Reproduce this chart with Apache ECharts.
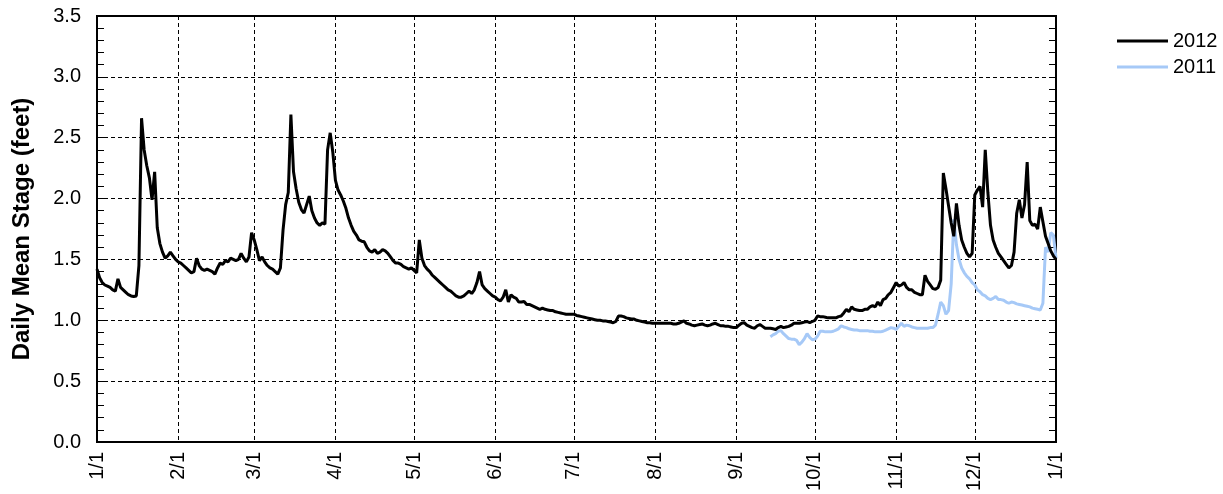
<!DOCTYPE html>
<html>
<head>
<meta charset="utf-8">
<script src="https://cdn.jsdelivr.net/npm/echarts@6/dist/echarts.min.js"></script>
<style>
  html, body { margin: 0; padding: 0; background: #fff; }
  #chart { width: 1223px; height: 494px; }
</style>
</head>
<body>
<div id="chart"></div>
<script>
// Days per month (leap year) used to build the daily date categories
const monthLengths = [31, 29, 31, 30, 31, 30, 31, 31, 30, 31, 30, 31];

// Daily mean stage, feet: 1/1 through 12/31 plus the following 1/1
const stage2012 = [
  // Jan
  1.42, 1.35, 1.31, 1.29, 1.28, 1.27, 1.25, 1.24, 1.34, 1.27,
  1.25, 1.23, 1.21, 1.20, 1.195, 1.20, 1.45, 2.66, 2.40, 2.27,
  2.17, 1.99, 2.22, 1.76, 1.63, 1.56, 1.51, 1.53, 1.56, 1.53,
  1.50,
  // Feb
  1.48, 1.47, 1.45, 1.43, 1.41, 1.39, 1.40, 1.51, 1.45, 1.42,
  1.41, 1.42, 1.41, 1.40, 1.38, 1.43, 1.47, 1.46, 1.49, 1.48,
  1.51, 1.50, 1.49, 1.50, 1.55, 1.51, 1.48, 1.52, 1.72,
  // Mar
  1.66, 1.58, 1.49, 1.52, 1.48, 1.45, 1.43, 1.42, 1.40, 1.38,
  1.43, 1.74, 1.95, 2.05, 2.69, 2.22, 2.08, 1.97, 1.91, 1.88,
  1.95, 2.02, 1.90, 1.84, 1.80, 1.78, 1.80, 1.79, 2.40, 2.54,
  2.38,
  // Apr
  2.15, 2.07, 2.03, 1.98, 1.92, 1.84, 1.78, 1.73, 1.70, 1.66,
  1.65, 1.645, 1.60, 1.57, 1.56, 1.58, 1.55, 1.56, 1.58, 1.57,
  1.55, 1.52, 1.49, 1.47, 1.47, 1.46, 1.44, 1.43, 1.42, 1.43,
  // May
  1.41, 1.39, 1.66, 1.51, 1.45, 1.42, 1.40, 1.37, 1.35, 1.33,
  1.31, 1.29, 1.27, 1.25, 1.24, 1.22, 1.20, 1.19, 1.19, 1.20,
  1.22, 1.24, 1.22, 1.25, 1.31, 1.40, 1.29, 1.26, 1.24, 1.22, 1.20,
  // Jun
  1.19, 1.17, 1.16, 1.19, 1.25, 1.15, 1.21, 1.19, 1.18, 1.15,
  1.15, 1.155, 1.13, 1.13, 1.12, 1.11, 1.10, 1.09, 1.10, 1.09,
  1.085, 1.08, 1.08, 1.07, 1.065, 1.06, 1.055, 1.05, 1.05, 1.05,
  // Jul
  1.05, 1.04, 1.035, 1.03, 1.025, 1.02, 1.015, 1.01, 1.005, 1.00,
  1.00, 0.995, 0.995, 0.99, 0.985, 0.98, 0.99, 1.035, 1.035, 1.03,
  1.02, 1.015, 1.01, 1.01, 1.00, 0.995, 0.99, 0.985, 0.98, 0.98, 0.975,
  // Aug
  0.975, 0.975, 0.975, 0.975, 0.975, 0.975, 0.975, 0.97, 0.97, 0.975,
  0.985, 0.995, 0.975, 0.97, 0.96, 0.955, 0.96, 0.965, 0.97, 0.96,
  0.955, 0.96, 0.97, 0.975, 0.965, 0.955, 0.955, 0.95, 0.95, 0.945, 0.94,
  // Sep
  0.94, 0.96, 0.975, 0.98, 0.96, 0.95, 0.94, 0.935, 0.955, 0.965,
  0.95, 0.935, 0.935, 0.935, 0.93, 0.925, 0.94, 0.95, 0.94, 0.945,
  0.95, 0.96, 0.975, 0.975, 0.975, 0.98, 0.985, 0.99, 0.98, 0.99,
  // Oct
  1.00, 1.035, 1.03, 1.03, 1.025, 1.02, 1.02, 1.02, 1.02, 1.03,
  1.035, 1.06, 1.09, 1.07, 1.11, 1.09, 1.085, 1.08, 1.08, 1.09,
  1.09, 1.11, 1.12, 1.11, 1.15, 1.12, 1.17, 1.18, 1.21, 1.23, 1.27,
  // Nov
  1.31, 1.28, 1.29, 1.31, 1.27, 1.25, 1.25, 1.23, 1.22, 1.21,
  1.21, 1.37, 1.32, 1.29, 1.26, 1.255, 1.27, 1.33, 2.21, 2.08,
  1.94, 1.80, 1.69, 1.96, 1.78, 1.66, 1.60, 1.55, 1.52, 1.55,
  // Dec
  2.03, 2.07, 2.10, 1.93, 2.40, 2.05, 1.78, 1.66, 1.60, 1.55,
  1.52, 1.49, 1.46, 1.43, 1.45, 1.56, 1.88, 1.99, 1.84, 1.95,
  2.30, 1.82, 1.78, 1.79, 1.75, 1.93, 1.81, 1.69, 1.63, 1.57, 1.53,
  // Jan 1
  1.50
];

// Daily mean stage, feet: 9/14 through the closing 1/1
const stage2011 = [
  0.865, 0.88, 0.89, 0.91, 0.915, 0.89, 0.87, 0.85, 0.845, 0.845,
  0.835, 0.80, 0.82, 0.85, 0.89, 0.86, 0.84, 0.845, 0.87, 0.91,
  0.91, 0.905, 0.905, 0.905, 0.91, 0.92, 0.93, 0.955, 0.945, 0.94,
  0.93, 0.925, 0.92, 0.92, 0.915, 0.915, 0.915, 0.915, 0.91, 0.91,
  0.905, 0.905, 0.905, 0.91, 0.92, 0.93, 0.94, 0.935, 0.925, 0.95,
  0.975, 0.95, 0.96, 0.955, 0.945, 0.94, 0.935, 0.935, 0.935, 0.935,
  0.935, 0.94, 0.94, 0.96, 1.05, 1.15, 1.12, 1.05, 1.08, 1.30,
  1.83, 1.62, 1.50, 1.43, 1.39, 1.36, 1.34, 1.31, 1.29, 1.25,
  1.235, 1.21, 1.20, 1.18, 1.17, 1.18, 1.195, 1.17, 1.17, 1.165,
  1.15, 1.14, 1.15, 1.145, 1.135, 1.13, 1.125, 1.12, 1.115, 1.11,
  1.10, 1.095, 1.09, 1.085, 1.14, 1.60, 1.56, 1.72, 1.70, 1.51
];

const seriesNames = ['2012', '2011'];
const seriesColors = ['#000000', '#a6c9f7'];

// Daily "M/D" categories, closing with the next 1/1
const categories = [];
monthLengths.forEach((days, m) => {
  for (let d = 1; d <= days; d++) categories.push((m + 1) + '/' + d);
});
categories.push('1/1');

const isMonthStart = (index, value) => String(value).split('/')[1] === '1';

// The 2011 record starts mid-September; pad the front with gaps
const data2011 = new Array(categories.length - stage2011.length).fill(null).concat(stage2011);

const FONT = "'Liberation Sans', Arial, Helvetica, sans-serif";
const dash = [4, 3];

const chart = echarts.init(document.getElementById('chart'), null, { renderer: 'canvas' });

const valueAxisBase = {
  type: 'value',
  min: 0,
  max: 3.5,
  interval: 0.5,
  axisLine: { show: true, onZero: false, lineStyle: { color: '#000', width: 2 } },
  axisTick: { show: true, inside: true, length: 7, lineStyle: { color: '#000', width: 1 } },
  minorTick: { show: true, splitNumber: 5, length: 7, lineStyle: { color: '#000', width: 1 } }
};

chart.setOption({
  animation: false,
  backgroundColor: '#fff',
  textStyle: { fontFamily: FONT, color: '#000' },
  grid: {
    left: 97, right: 167, top: 16, bottom: 52,
    show: true, borderColor: '#000', borderWidth: 2, backgroundColor: 'transparent'
  },
  legend: {
    data: seriesNames,
    orient: 'vertical',
    left: 1112,
    top: 26,
    icon: 'rect',
    itemWidth: 51,
    itemHeight: 3,
    itemGap: 6,
    textStyle: { fontFamily: FONT, fontSize: 20, color: '#000' }
  },
  xAxis: {
    type: 'category',
    data: categories,
    boundaryGap: false,
    axisLine: { lineStyle: { color: '#000', width: 2 } },
    axisTick: { show: false },
    axisLabel: {
      interval: isMonthStart,
      rotate: 90,
      margin: 10,
      fontFamily: FONT,
      fontSize: 20,
      color: '#000'
    },
    splitLine: {
      show: true,
      interval: isMonthStart,
      lineStyle: { color: '#000', width: 1, type: dash }
    }
  },
  yAxis: [
    Object.assign({}, valueAxisBase, {
      position: 'left',
      name: 'Daily Mean Stage (feet)',
      nameLocation: 'middle',
      nameGap: 63,
      nameTextStyle: { fontFamily: FONT, fontSize: 24, fontWeight: 'bold', color: '#000' },
      axisLabel: {
        margin: 16,
        fontFamily: FONT,
        fontSize: 20,
        color: '#000',
        formatter: v => v.toFixed(1)
      },
      splitLine: { show: true, lineStyle: { color: '#000', width: 1, type: dash } }
    }),
    Object.assign({}, valueAxisBase, {
      position: 'right',
      axisLabel: { show: false },
      splitLine: { show: false }
    })
  ],
  series: [
    {
      name: seriesNames[1],
      type: 'line',
      data: data2011,
      symbol: 'none',
      connectNulls: false,
      lineStyle: { color: seriesColors[1], width: 3 },
      itemStyle: { color: seriesColors[1] },
      z: 2
    },
    {
      name: seriesNames[0],
      type: 'line',
      data: stage2012,
      symbol: 'none',
      lineStyle: { color: seriesColors[0], width: 3 },
      itemStyle: { color: seriesColors[0] },
      z: 3
    }
  ]
});
</script>
</body>
</html>
